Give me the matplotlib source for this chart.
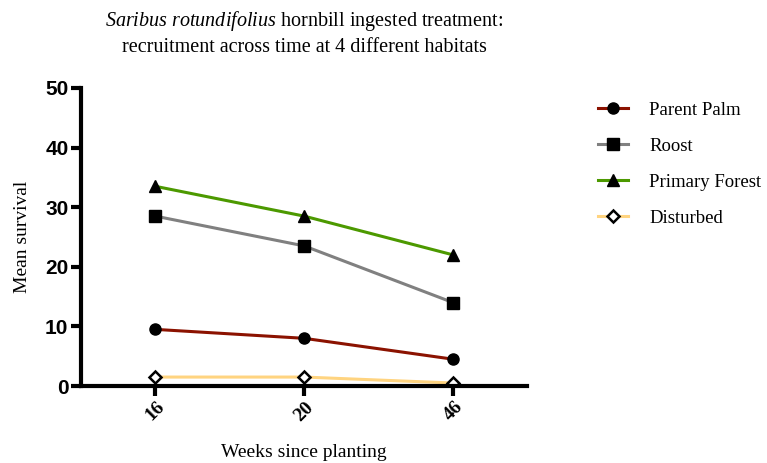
import matplotlib.pyplot as plt

# ----------------------------------------
# Data
# ----------------------------------------
weeks = ["16", "20", "46"]
parent_palm = [9.5, 8.0, 4.5]
roost = [28.5, 23.5, 14.0]
primary_forest = [33.5, 28.5, 22.0]
disturbed = [1.5, 1.5, 0.5]

serif = "Liberation Serif"
sans = "Liberation Sans"

plt.rcParams["mathtext.fontset"] = "custom"
plt.rcParams["mathtext.it"] = "Liberation Serif:italic"
plt.rcParams["mathtext.rm"] = "Liberation Serif"

fig = plt.figure(figsize=(7.67, 4.63), dpi=100)
ax = fig.add_axes([0.1056, 0.1663, 0.582, 0.6437])

x = range(len(weeks))
ax.plot(x, parent_palm, color="#8b1200", lw=2.2, marker="o", ms=8,
        mfc="black", mec="black", label="Parent Palm")
ax.plot(x, roost, color="#808080", lw=2.2, marker="s", ms=8,
        mfc="black", mec="black", label="Roost")
ax.plot(x, primary_forest, color="#4c9900", lw=2.2, marker="^", ms=8,
        mfc="black", mec="black", label="Primary Forest")
ax.plot(x, disturbed, color="#ffd480", lw=2.2, marker="D", ms=6.5,
        mfc="white", mec="black", mew=1.8, label="Disturbed")

ax.set_xlim(-0.5, 2.5)
ax.set_ylim(0, 50)
ax.set_xticks(list(x))
ax.set_xticklabels(weeks, rotation=45, fontfamily=serif, fontweight="bold",
                   fontsize=14, ha="center", va="top")
ax.set_yticks([0, 10, 20, 30, 40, 50])
for lab in ax.get_yticklabels():
    lab.set_fontfamily(sans)
    lab.set_fontweight("bold")
    lab.set_fontsize(15)

for s in ["top", "right"]:
    ax.spines[s].set_visible(False)
for s in ["left", "bottom"]:
    ax.spines[s].set_linewidth(3)
ax.tick_params(width=3, length=7, pad=2)

ax.set_xlabel("Weeks since planting", fontfamily=serif, fontsize=14, labelpad=14)
ax.set_ylabel("Mean survival", fontfamily=serif, fontsize=14, labelpad=10)

ax.set_title(r"$\mathit{Saribus\ rotundifolius}$" + " hornbill ingested treatment:\nrecruitment across time at 4 different habitats",
             fontfamily=serif, fontsize=14.5, pad=26, linespacing=1.35)

leg = ax.legend(loc="upper left", bbox_to_anchor=(1.12, 1.01), frameon=False,
                prop={"family": serif, "size": 13.5}, labelspacing=1.0,
                handlelength=1.6, handletextpad=1.15)

plt.savefig("out.png", dpi=100)
